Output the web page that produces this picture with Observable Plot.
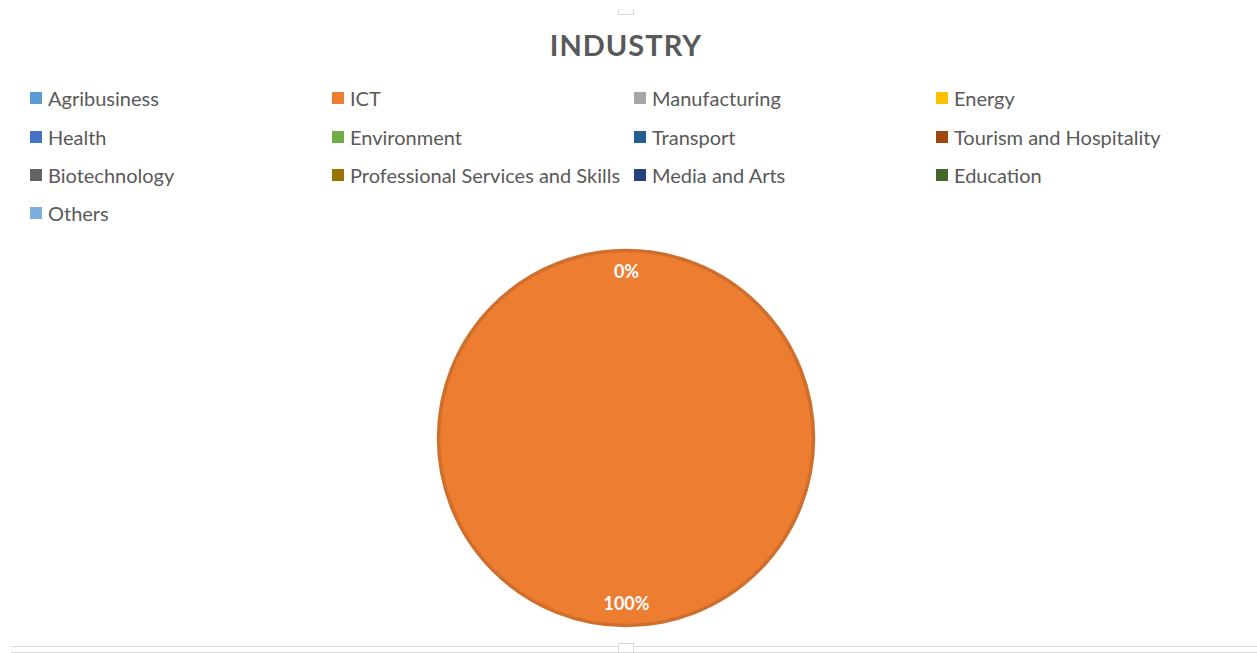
<!DOCTYPE html>
<html>
<head>
<meta charset="utf-8">
<script src="https://cdn.jsdelivr.net/npm/d3@7"></script>
<script src="https://cdn.jsdelivr.net/npm/@observablehq/plot@0.6"></script>
<style>
  html, body { margin: 0; padding: 0; background: #fff; }
  #wrap { position: relative; width: 1257px; height: 653px; overflow: hidden; font-family: Lato, "Open Sans", sans-serif; }
  #title { position: absolute; left: 0; width: 1252px; top: 28px; text-align: center; font-size: 29px; line-height: 34px; font-weight: 700; color: #595959; letter-spacing: 1px; }
  #legend { position: absolute; left: 30px; top: 79px; display: grid; grid-template-columns: repeat(4, 302px); grid-auto-rows: 38.4px; }
  .item { display: flex; align-items: center; font-size: 20px; color: #595959; white-space: nowrap; }
  .sw { width: 12px; height: 12px; margin-right: 6px; flex: none; }
  #chart { position: absolute; left: 0; top: 240px; }
  .hline { position: absolute; left: 11px; right: 0; height: 1px; background: #d9d9d9; }
  .handle { position: absolute; width: 14px; height: 5px; border: 1px solid #d9d9d9; background: #fff; }
</style>
</head>
<body>
<div id="wrap">
  <div class="handle" style="left:618px; top:9px; border-top:none;"></div>
  <div id="title">INDUSTRY</div>
  <div id="legend"></div>
  <div id="chart"></div>
  <div class="hline" style="top:646px;"></div>
  <div class="hline" style="top:652px;"></div>
  <div class="handle" style="left:618px; top:643px; border-bottom:none; height:8px;"></div>
</div>
<script>
const categories = ["Agribusiness", "ICT", "Manufacturing", "Energy", "Health", "Environment", "Transport", "Tourism and Hospitality", "Biotechnology", "Professional Services and Skills", "Media and Arts", "Education", "Others"];
const shares = [0, 100, 0, 0, 0, 0, 0, 0, 0, 0, 0, 0, 0];
const colors = ["#5B9BD5", "#ED7D31", "#A5A5A5", "#FFC000", "#4472C4", "#70AD47", "#255E91", "#9E480E", "#636363", "#997300", "#264478", "#43682B", "#7CAFDD"];

// legend
const legend = document.getElementById("legend");
categories.forEach((c, i) => {
  const d = document.createElement("div");
  d.className = "item";
  d.innerHTML = `<span class="sw" style="background:${colors[i]}"></span><span>${c}</span>`;
  legend.appendChild(d);
});

const data = categories.map((c, i) => ({category: c, value: shares[i]}));
const total = d3.sum(shares);
const arcs = d3.pie().sort(null).value(d => d.value)(data);
const labelR = 0.878;
const seen = new Set();
const labels = [];
arcs.forEach(a => {
  const mid = (a.startAngle + a.endAngle) / 2;
  const x = labelR * Math.sin(mid), y = labelR * Math.cos(mid);
  const key = x.toFixed(3) + "," + y.toFixed(3);
  if (seen.has(key)) return;
  seen.add(key);
  labels.push({x, y, text: Math.round(a.data.value / total * 100) + "%"});
});

const W = 1257, H = 400;
const plot = Plot.plot({
  width: W,
  height: H,
  marginLeft: 437,
  marginRight: 442,
  marginTop: 9,
  marginBottom: 13,
  x: {domain: [-1, 1], axis: null},
  y: {domain: [-1, 1], axis: null},
  color: {domain: categories, range: colors},
  marks: [
    (index, scales) => {
      const cx = scales.x(0), cy = scales.y(0);
      const r = scales.x(1) - scales.x(0);
      const g = d3.create("svg:g").attr("transform", `translate(${cx},${cy})`);
      const arcGen = d3.arc().innerRadius(0).outerRadius(r - 1.5);
      g.selectAll("path")
        .data(arcs.filter(a => a.endAngle > a.startAngle))
        .join("path")
        .attr("d", arcGen)
        .attr("fill", a => scales.color(a.data.category))
        .attr("stroke", "#D06E2C")
        .attr("stroke-width", 3.5)
        .attr("stroke-linejoin", "round");
      return g.node();
    },
    Plot.text(labels, {x: "x", y: "y", text: "text", fill: "white", fontSize: 18, fontWeight: 700, fontFamily: "Lato, sans-serif"})
  ]
});
document.getElementById("chart").appendChild(plot);
</script>
</body>
</html>
